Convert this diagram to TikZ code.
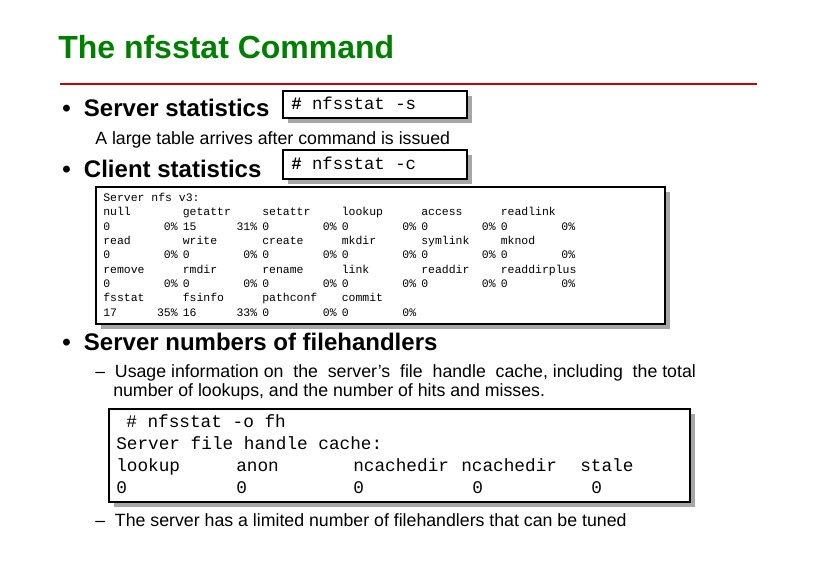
\documentclass[tikz,border=0pt]{standalone}
\usepackage{fontspec}
\setmainfont{Liberation Sans}
\newfontfamily\mono{Liberation Mono}
\begin{document}
\begin{tikzpicture}[x=0.75pt,y=-0.75pt,
  bul/.style={anchor=base west,font=\fontsize{18}{20}\selectfont\bfseries,inner sep=0},
  sub/.style={anchor=base west,font=\fontsize{13.3}{15}\selectfont,inner sep=0},
  cmd/.style={anchor=base west,font=\mono\fontsize{13}{15}\selectfont,inner sep=0},
  tb/.style={font=\mono\fontsize{8.6}{10}\selectfont,inner sep=0},
  big/.style={anchor=base west,font=\mono\fontsize{13.3}{15}\selectfont,inner sep=0},
  box/.style={draw=black,line width=1.5pt,fill=white},
  shad/.style={fill=black!35,draw=none}]
\useasboundingbox (0,0) rectangle (818,578);
\node[anchor=base west,inner sep=0,text=green!50!black,font=\fontsize{24}{26}\selectfont\bfseries] (title) at (58,58) {The nfsstat Command};
\draw[red!80!black,line width=1pt] (60,84) -- (757,84);
\node[bul] (b1) at (62,116) {\textbullet\ \ Server statistics};
\fill[shad] (288,96) rectangle (472,123);
\draw[box] (283,91) rectangle (467,118);
\node[cmd] (c1) at (291,109) {\textbf{\#} nfsstat -s};
\node[sub] (t1) at (95,144) {A large table arrives after command is issued};
\node[bul] (b2) at (62,177) {\textbullet\ \ Client statistics};
\fill[shad] (288,155) rectangle (472,184);
\draw[box] (283,150) rectangle (467,179);
\node[cmd] (c2) at (291,169) {\textbf{\#} nfsstat -c};
\fill[shad] (101,192) rectangle (670,329);
\draw[box] (96,187) rectangle (665,324);
\node[tb,anchor=base west] (h) at (103,201) {Server nfs v3:};
\foreach \row/\y in {{null,getattr,setattr,lookup,access,readlink}/215,{read,write,create,mkdir,symlink,mknod}/244,{remove,rmdir,rename,link,readdir,readdirplus}/273,{fsstat,fsinfo,pathconf,commit}/301}{
  \foreach \w [count=\i] in \row {\node[tb,anchor=base west] at ({103+79.5*(\i-1)},\y) {\w};}}
\foreach \row/\y in {{0/0\%,15/31\%,0/0\%,0/0\%,0/0\%,0/0\%}/230,{0/0\%,0/0\%,0/0\%,0/0\%,0/0\%,0/0\%}/258,{0/0\%,0/0\%,0/0\%,0/0\%,0/0\%,0/0\%}/287,{17/35\%,16/33\%,0/0\%,0/0\%}/316}{
  \foreach \a/\b [count=\i] in \row {
    \node[tb,anchor=base west] at ({103+79.5*(\i-1)},\y) {\a};
    \node[tb,anchor=base east] at ({178+79.5*(\i-1)},\y) {\b};}}
\node[bul] (b3) at (62,350) {\textbullet\ \ Server numbers of filehandlers};
\node[sub] (t2a) at (95,377) {-- \ Usage information on \ the \ server's \ file \ handle \ cache, including \ the total};
\node[sub] (t2b) at (113,396) {number of lookups, and the number of hits and misses.};
\fill[shad] (114,414) rectangle (695,507);
\draw[box] (109,409) rectangle (690,502);
\node[big] at (126,427) {\# nfsstat -o fh};
\node[big] at (116,449) {Server file handle cache:};
\foreach \w/\x in {lookup/116,anon/236,ncachedir/353,ncachedir/461,stale/580}{\node[big] at (\x,471) {\w};}
\foreach \x in {116,236,353,472,591}{\node[big] at (\x,493) {0};}
\node[sub] (t3) at (95,526) {-- \ The server has a limited number of filehandlers that can be tuned};
\end{tikzpicture}
\end{document}
